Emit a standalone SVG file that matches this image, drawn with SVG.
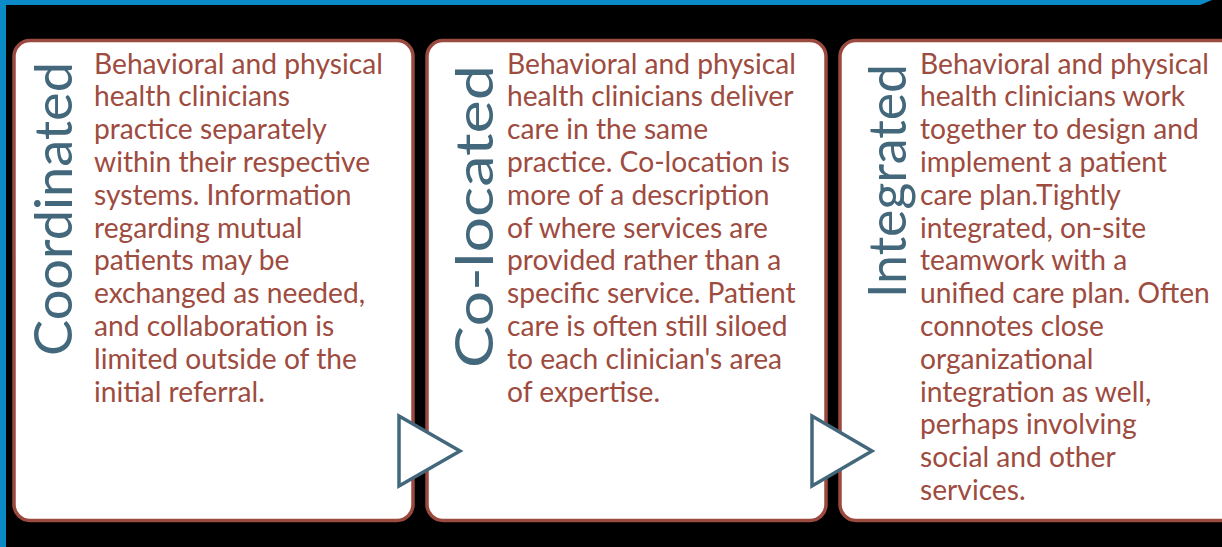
<svg xmlns="http://www.w3.org/2000/svg" width="1222" height="547" viewBox="0 0 1222 547">
<style>
.box{fill:#ffffff;stroke:#9b4a3f;stroke-width:3.5}
.arr{fill:#ffffff;stroke:#43687c;stroke-width:3.5;stroke-linejoin:miter}
.body{font-family:Lato,"Open Sans",sans-serif;font-size:28.2px;fill:#9e4b40}
.title{font-family:Lato,"Open Sans",sans-serif;font-size:53px;fill:#43687c}
</style>
<rect x="0" y="0" width="1222" height="547" fill="#000000"/>
<path d="M0,0 H1222 V0 L1212,0 L1200,5 H6 V547 H0 Z" fill="#0a8ac6"/>
<g id="node-coordinated">
<rect class="box" x="14" y="40.5" width="399" height="480" rx="16"/>
<text class="title" transform="translate(72,356) rotate(-90)" textLength="294" lengthAdjust="spacingAndGlyphs">Coordinated</text>
<text class="body">
<tspan x="94" y="73.5">Behavioral and physical</tspan>
<tspan x="94" y="106.3">health clinicians</tspan>
<tspan x="94" y="139.1">practice separately</tspan>
<tspan x="94" y="171.9">within their respective</tspan>
<tspan x="94" y="204.7">systems. Information</tspan>
<tspan x="94" y="237.5">regarding mutual</tspan>
<tspan x="94" y="270.3">patients may be</tspan>
<tspan x="94" y="303.1">exchanged as needed,</tspan>
<tspan x="94" y="335.9">and collaboration is</tspan>
<tspan x="94" y="368.7">limited outside of the</tspan>
<tspan x="94" y="401.5">initial referral.</tspan>
</text>
</g>
<g id="node-colocated">
<rect class="box" x="427" y="40.5" width="399" height="480" rx="16"/>
<text class="title" transform="translate(493,368) rotate(-90)" textLength="303" lengthAdjust="spacingAndGlyphs">Co-located</text>
<text class="body">
<tspan x="507" y="73.5">Behavioral and physical</tspan>
<tspan x="507" y="106.3">health clinicians deliver</tspan>
<tspan x="507" y="139.1">care in the same</tspan>
<tspan x="507" y="171.9">practice. Co-location is</tspan>
<tspan x="507" y="204.7">more of a description</tspan>
<tspan x="507" y="237.5">of where services are</tspan>
<tspan x="507" y="270.3">provided rather than a</tspan>
<tspan x="507" y="303.1">specific service. Patient</tspan>
<tspan x="507" y="335.9">care is often still siloed</tspan>
<tspan x="507" y="368.7">to each clinician's area</tspan>
<tspan x="507" y="401.5">of expertise.</tspan>
</text>
</g>
<g id="node-integrated">
<rect class="box" x="840" y="40.5" width="420" height="480" rx="16"/>
<text class="title" transform="translate(906,298) rotate(-90)" textLength="234" lengthAdjust="spacingAndGlyphs">Integrated</text>
<text class="body">
<tspan x="920" y="73.5">Behavioral and physical</tspan>
<tspan x="920" y="106.3">health clinicians work</tspan>
<tspan x="920" y="139.1">together to design and</tspan>
<tspan x="920" y="171.9">implement a patient</tspan>
<tspan x="920" y="204.7">care plan.Tightly</tspan>
<tspan x="920" y="237.5">integrated, on-site</tspan>
<tspan x="920" y="270.3">teamwork with a</tspan>
<tspan x="920" y="303.1">unified care plan. Often</tspan>
<tspan x="920" y="335.9">connotes close</tspan>
<tspan x="920" y="368.7">organizational</tspan>
<tspan x="920" y="401.5">integration as well,</tspan>
<tspan x="920" y="434.3">perhaps involving</tspan>
<tspan x="920" y="467.1">social and other</tspan>
<tspan x="920" y="499.9">services.</tspan>
</text>
</g>
<g id="connectors">
<polygon class="arr" points="399,416 460,451 399,486"/>
<polygon class="arr" points="812,416 872,451 812,486"/>
</g>
</svg>
